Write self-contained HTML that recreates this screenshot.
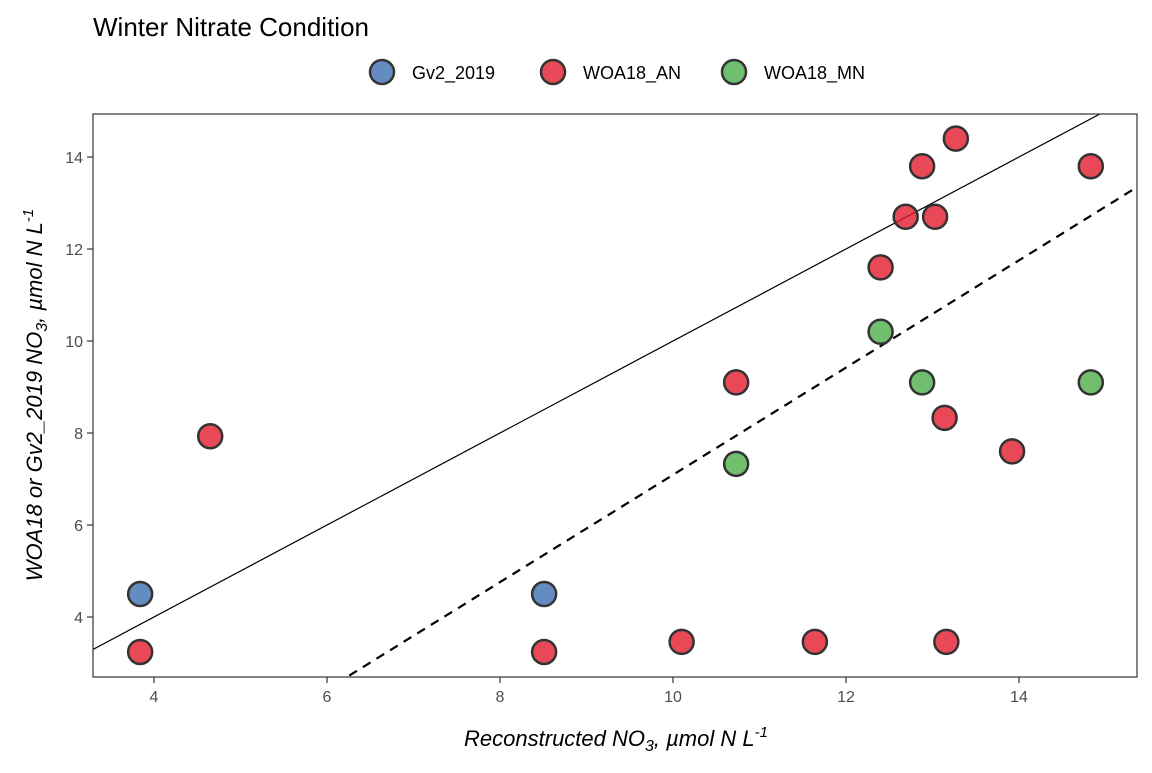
<!DOCTYPE html>
<html><head><meta charset="utf-8"><style>
body{margin:0;background:#fff;font-family:"Liberation Sans",Arial,sans-serif}
svg text{font-family:"Liberation Sans",Arial,sans-serif}
</style></head><body>
<svg id="c" width="1152" height="768" viewBox="0 0 1152 768">
<text x="93" y="36" font-size="26" fill="#000">Winter Nitrate Condition</text>
<g>
<circle cx="382" cy="72" r="12" fill="#4a78b5" fill-opacity="0.85" stroke="#333" stroke-width="2.5"/>
<text x="412" y="79" font-size="18">Gv2_2019</text>
<circle cx="553" cy="72" r="12" fill="#e41a2c" fill-opacity="0.8" stroke="#333" stroke-width="2.5"/>
<text x="583" y="79" font-size="18">WOA18_AN</text>
<circle cx="734" cy="72" r="12" fill="#4daf4a" fill-opacity="0.8" stroke="#333" stroke-width="2.5"/>
<text x="764" y="79" font-size="18">WOA18_MN</text>
</g>
<defs><clipPath id="pc"><rect x="93" y="114" width="1044" height="563"/></clipPath></defs>
<g id="axes"></g>
<g id="marks" clip-path="url(#pc)"></g>
<rect x="93" y="114" width="1044" height="563" fill="none" stroke="#333" stroke-width="1.2"/>
<text x="616" y="746" font-size="22" font-style="italic" text-anchor="middle">Reconstructed NO<tspan font-size="16" dy="5">3</tspan><tspan dy="-5">, µmol N L</tspan><tspan font-size="15" dy="-9">-1</tspan></text>
<text transform="translate(42,395) rotate(-90)" font-size="22" font-style="italic" text-anchor="middle">WOA18 or Gv2_2019 NO<tspan font-size="16" dy="5">3</tspan><tspan dy="-5">, µmol N L</tspan><tspan font-size="15" dy="-9">-1</tspan></text>
</svg>
<script>
const xTicks=[4,6,8,10,12,14];
const yTicks=[4,6,8,10,12,14];
const gvX=[3.84,8.51];
const gvY=[4.5,4.5];
const anX=[3.84,4.65,8.51,10.1,10.73,11.64,12.40,12.69,12.88,13.03,13.27,13.14,13.16,13.92,14.83];
const anY=[3.24,7.93,3.24,3.46,9.1,3.46,11.6,12.7,13.8,12.7,14.4,8.33,3.46,7.6,13.8];
const mnX=[10.73,12.40,12.88,14.83];
const mnY=[7.33,10.2,9.1,9.1];
const dashSlope=1.166, dashIntercept=-4.57;
const X=v=>154+(v-4)*86.5;
const Y=v=>617-(v-4)*46;
const NS="http://www.w3.org/2000/svg";
const axes=document.getElementById('axes'), marks=document.getElementById('marks');
function mk(tag,attrs,parent){const e=document.createElementNS(NS,tag);for(const k in attrs)e.setAttribute(k,attrs[k]);parent.appendChild(e);return e;}
xTicks.forEach(t=>{
 const l=mk('line',{x1:X(t),x2:X(t),y1:677,y2:683,stroke:'#333','stroke-width':1.2},axes);
 
 
 const tx=mk('text',{x:X(t),y:702,'font-size':16,fill:'#4d4d4d','text-anchor':'middle'},axes);tx.textContent=t;
 
 
});
yTicks.forEach(t=>{
 const l=mk('line',{x1:87,x2:93,y1:Y(t),y2:Y(t),stroke:'#333','stroke-width':1.2},axes);
 
 
 const tx=mk('text',{x:83,y:Y(t)+6,'font-size':16,fill:'#4d4d4d','text-anchor':'end'},axes);tx.textContent=t;
 
 
});
const one=mk('line',{x1:X(3),y1:Y(3),x2:X(16),y2:Y(16),stroke:'#000','stroke-width':1.2},marks);


const d=mk('line',{x1:X(5),y1:Y(dashSlope*5+dashIntercept),x2:X(16),y2:Y(dashSlope*16+dashIntercept),stroke:'#000','stroke-width':2.2,'stroke-dasharray':'9,7'},marks);


function pts(xs,ys,fill,op,name){xs.forEach((x,i)=>{
 const c=mk('circle',{cx:X(x),cy:Y(ys[i]),r:12,fill:fill,'fill-opacity':op,stroke:'#333','stroke-width':2.5},marks);
 
 
});}
pts(gvX,gvY,'#4a78b5',0.85,'point-gv2-2019');
pts(anX,anY,'#e41a2c',0.8,'point-woa18-an');
pts(mnX,mnY,'#4daf4a',0.8,'point-woa18-mn');
</script>
</body></html>
